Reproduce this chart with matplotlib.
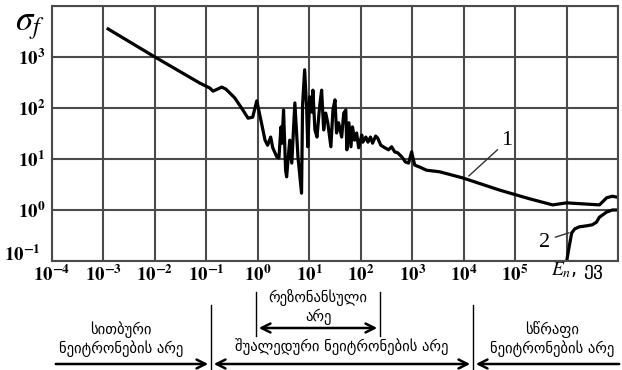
import numpy as np
import matplotlib
matplotlib.use('Agg')
from matplotlib import pyplot as plt
from matplotlib.transforms import ScaledTranslation

# curve 1: fission cross-section as log10 values
logE_1 = [-2.91, -2.00, -1.13, -0.93, -0.87, -0.70, -0.62, -0.45, -0.29, -0.19,
          -0.10, -0.02, 0.06, 0.14, 0.19, 0.25, 0.29, 0.37, 0.41, 0.45,
          0.47, 0.50, 0.54, 0.56, 0.62, 0.66, 0.72, 0.78, 0.85, 0.87,
          0.91, 0.95, 0.97, 1.01, 1.05, 1.07, 1.11, 1.15, 1.20, 1.24,
          1.28, 1.32, 1.36, 1.42, 1.46, 1.50, 1.53, 1.57, 1.63, 1.67,
          1.71, 1.73, 1.77, 1.81, 1.84, 1.88, 1.92, 1.96, 2.02, 2.04,
          2.10, 2.14, 2.19, 2.23, 2.29, 2.33, 2.39, 2.47, 2.54, 2.60,
          2.66, 2.72, 2.80, 2.87, 2.93, 2.99, 3.01, 3.05, 3.15, 3.28,
          3.53, 3.98, 4.70, 5.28, 5.73, 6.00, 6.64, 6.78, 6.89, 6.99]
logS_1 = [3.55, 3.00, 2.49, 2.39, 2.33, 2.41, 2.37, 2.20, 1.96, 1.80,
          1.82, 2.14, 1.76, 1.37, 1.27, 1.43, 1.22, 1.04, 1.02, 1.63,
          1.31, 1.96, 0.78, 0.65, 1.37, 0.92, 2.10, 1.04, 0.33, 2.06,
          2.75, 1.96, 1.24, 2.22, 1.92, 2.35, 1.57, 1.43, 2.02, 2.35,
          1.57, 1.90, 1.71, 1.24, 1.96, 2.16, 1.51, 1.71, 1.43, 1.90,
          1.96, 1.18, 1.71, 1.24, 1.63, 1.37, 1.51, 1.22, 1.47, 1.33,
          1.43, 1.33, 1.43, 1.31, 1.45, 1.41, 1.27, 1.22, 1.18, 1.24,
          1.14, 1.12, 1.04, 0.94, 0.92, 1.14, 1.04, 0.88, 0.84, 0.78,
          0.75, 0.63, 0.39, 0.22, 0.10, 0.14, 0.10, 0.24, 0.27, 0.25]

# curve 2: threshold curve
logE_2 = [6.00, 6.04, 6.10, 6.16, 6.25, 6.39, 6.50, 6.58, 6.64, 6.78, 6.89, 6.99]
logS_2 = [-1.02, -0.78, -0.45, -0.37, -0.33, -0.31, -0.29, -0.24, -0.14, -0.04, 0.00, 0.00]

x_exp = [-4, -3, -2, -1, 0, 1, 2, 3, 4, 5, 6, 7]
y_exp = [-1, 0, 1, 2, 3, 4]

E1 = 10.0 ** np.array(logE_1)
S1 = 10.0 ** np.array(logS_1)
E2 = 10.0 ** np.array(logE_2)
S2 = 10.0 ** np.array(logS_2)

plt.rcParams['mathtext.fontset'] = 'stix'
grid_c = '#4a4a4a'

fig = plt.figure(figsize=(6.22, 3.70), dpi=100)
ax = fig.add_axes([52/622, 1 - 261/370, 566/622, 255/370])

ax.set_xscale('log')
ax.set_yscale('log')
ax.set_xlim(1e-4, 1e7)
ax.set_ylim(1e-1, 1e4)

ax.plot(E1, S1, color='black', lw=2.3, solid_joinstyle='round')
ax.plot(E2, S2, color='black', lw=2.3, solid_joinstyle='round')

xt = [10.0 ** e for e in x_exp]
yt = [10.0 ** e for e in y_exp]
ax.set_xticks(xt)
ax.set_yticks(yt)
ax.set_xticklabels([r'$\mathbf{10^{%d}}$' % e if e <= 5 else '' for e in x_exp], fontsize=13.5)
ax.set_yticklabels([r'$\mathbf{10^{%d}}$' % e if e <= 3 else '' for e in y_exp], fontsize=13.5)
ax.minorticks_off()
ax.tick_params(axis='x', length=0, pad=3)
ax.tick_params(axis='y', length=0, pad=5)
ax.grid(True, color=grid_c, lw=1.5)
for s in ax.spines.values():
    s.set_color(grid_c)
    s.set_linewidth(1.5)

# lowest y label sits a bit higher, clear of the x labels
lbl = ax.get_yticklabels()[0]
lbl.set_transform(lbl.get_transform() + ScaledTranslation(-3/72, 6/72, fig.dpi_scale_trans))

# curve labels
ax.annotate('', xy=(10**4.06, 10**0.63), xytext=(10**4.70, 10**1.22),
            arrowprops=dict(arrowstyle='-', color='#333333', lw=1))
ax.text(10**4.83, 10**1.37, '1', fontsize=16, family='Liberation Serif', ha='center', va='center')
ax.annotate('', xy=(10**6.10, 10**-0.43), xytext=(10**5.73, 10**-0.55),
            arrowprops=dict(arrowstyle='-', color='#333333', lw=1))
ax.text(10**5.57, 10**-0.63, '2', fontsize=16, family='Liberation Serif', ha='center', va='center')

fig.text(30/622, 1 - 25/370, r'$\sigma_f$', fontsize=25, ha='center', va='center')
fig.text(577/622, 1 - 271/370, r'$\mathit{E_{n}}$, ევ', fontsize=14, ha='center', va='center',
         family='DejaVu Sans')


# region annotations under the axis, in figure pixels
def px(x, y):
    return (x / 622, 1 - y / 370)


def line(x0, y0, x1, y1):
    fig.add_artist(plt.Line2D([x0 / 622, x1 / 622], [1 - y0 / 370, 1 - y1 / 370],
                              color='black', lw=1, transform=fig.transFigure))


def arrow(x0, x1, y, style):
    fig.add_artist(matplotlib.patches.FancyArrowPatch(px(x0, y), px(x1, y), transform=fig.transFigure,
                   arrowstyle=style, mutation_scale=16, color='black', lw=1.8))


line(211, 305, 211, 370)
line(473, 305, 473, 370)
line(256, 292, 256, 336)
line(380, 292, 380, 336)
arrow(53, 211, 364, '->')
arrow(211, 473, 364, '<->')
arrow(622, 473, 364, '->')
arrow(256, 380, 328, '<->')

gfont = dict(fontsize=10.5, family='DejaVu Sans', ha='center', va='center',
             multialignment='center', linespacing=1.15)
fig.text(*px(318, 307), 'რეზონანსული\nარე', **gfont)
fig.text(*px(121, 339), 'სითბური\nნეიტრონების არე', **gfont)
fig.text(*px(342, 347), 'შუალედური ნეიტრონების არე', **gfont)
fig.text(*px(552, 339), 'სწრაფი\nნეიტრონების არე', **gfont)

fig.savefig('out.png', dpi=100)
